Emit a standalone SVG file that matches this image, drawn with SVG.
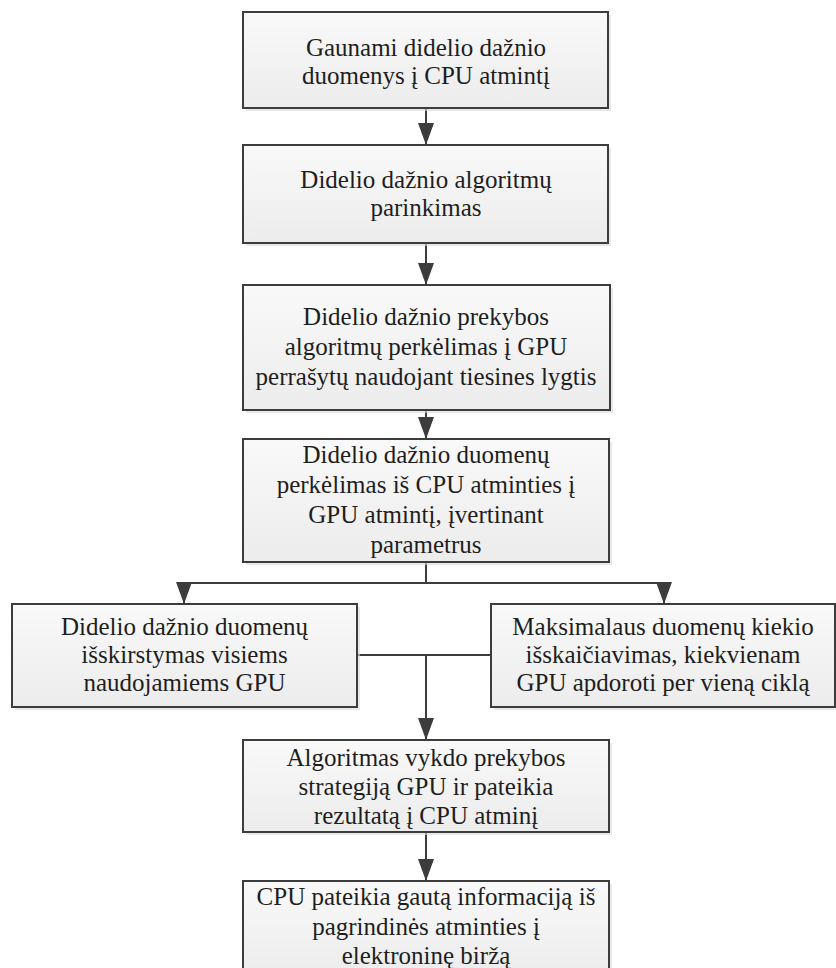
<svg xmlns="http://www.w3.org/2000/svg" width="836" height="968" viewBox="0 0 836 968">
<style>
.box{fill:url(#g);stroke:#3c3c3c;stroke-width:2}
.sh{fill:#d9d9d9;opacity:.6}
.t{font-family:"Liberation Serif","Times New Roman",serif;font-size:25px;fill:#1e1e1e;text-anchor:middle}
.c{fill:none;stroke:#3c3c3c;stroke-width:2}
</style>
<defs>
<linearGradient id="g" x1="0" y1="0" x2="0" y2="1">
<stop offset="0" stop-color="#f9f9f9"/>
<stop offset="1" stop-color="#ececec"/>
</linearGradient>
<marker id="ah" markerUnits="userSpaceOnUse" viewBox="0 0 22 16" markerWidth="22" markerHeight="16" refX="22" refY="8" orient="auto">
<path d="M0,0 L22,8 L0,16 z" fill="#3c3c3c"/>
</marker>
</defs>
<rect width="836" height="968" fill="#ffffff"/>
<g id="connectors">
<line class="c" x1="426" y1="108" x2="426" y2="145" marker-end="url(#ah)"/>
<line class="c" x1="426" y1="243" x2="426" y2="285" marker-end="url(#ah)"/>
<line class="c" x1="426" y1="410" x2="426" y2="439" marker-end="url(#ah)"/>
<polyline class="c" points="426,562 426,583"/>
<line class="c" x1="184" y1="583" x2="664" y2="583"/>
<line class="c" x1="184" y1="582" x2="184" y2="604" marker-end="url(#ah)"/>
<line class="c" x1="664" y1="582" x2="664" y2="604" marker-end="url(#ah)"/>
<line class="c" x1="357" y1="655" x2="491" y2="655"/>
<line class="c" x1="426" y1="654" x2="426" y2="740" marker-end="url(#ah)"/>
<line class="c" x1="426" y1="832" x2="426" y2="881" marker-end="url(#ah)"/>
</g>
<g id="n1">
<rect class="sh" x="246" y="15" width="365" height="96"/>
<rect class="box" x="243" y="12" width="365" height="96"/>
<text class="t" x="426" y="56">Gaunami didelio dažnio</text>
<text class="t" x="426" y="84">duomenys į CPU atmintį</text>
</g>
<g id="n2">
<rect class="sh" x="246" y="148" width="365" height="98"/>
<rect class="box" x="243" y="145" width="365" height="98"/>
<text class="t" x="426" y="188">Didelio dažnio algoritmų</text>
<text class="t" x="426" y="216">parinkimas</text>
</g>
<g id="n3">
<rect class="sh" x="246" y="288" width="367" height="125"/>
<rect class="box" x="243" y="285" width="367" height="125"/>
<text class="t" x="426" y="325">Didelio dažnio prekybos</text>
<text class="t" x="426" y="355">algoritmų perkėlimas į GPU</text>
<text class="t" x="426" y="385">perrašytų naudojant tiesines lygtis</text>
</g>
<g id="n4">
<rect class="sh" x="246" y="442" width="366" height="123"/>
<rect class="box" x="243" y="439" width="366" height="123"/>
<text class="t" x="426" y="463">Didelio dažnio duomenų</text>
<text class="t" x="426" y="493">perkėlimas iš CPU atminties į</text>
<text class="t" x="426" y="523">GPU atmintį, įvertinant</text>
<text class="t" x="426" y="553">parametrus</text>
</g>
<g id="n5">
<rect class="sh" x="15" y="607" width="345" height="103"/>
<rect class="box" x="12" y="604" width="345" height="103"/>
<text class="t" x="184.5" y="635">Didelio dažnio duomenų</text>
<text class="t" x="184.5" y="663">išskirstymas visiems</text>
<text class="t" x="184.5" y="691">naudojamiems GPU</text>
</g>
<g id="n6">
<rect class="sh" x="494" y="607" width="344" height="103"/>
<rect class="box" x="491" y="604" width="344" height="103"/>
<text class="t" x="663" y="635">Maksimalaus duomenų kiekio</text>
<text class="t" x="663" y="663">išskaičiavimas, kiekvienam</text>
<text class="t" x="663" y="691">GPU apdoroti per vieną ciklą</text>
</g>
<g id="n7">
<rect class="sh" x="246" y="743" width="366" height="92"/>
<rect class="box" x="243" y="740" width="366" height="92"/>
<text class="t" x="426" y="766">Algoritmas vykdo prekybos</text>
<text class="t" x="426" y="795">strategiją GPU ir pateikia</text>
<text class="t" x="426" y="824">rezultatą į CPU atminį</text>
</g>
<g id="n8">
<rect class="sh" x="246" y="884" width="366" height="95"/>
<rect class="box" x="243" y="881" width="366" height="95"/>
<text class="t" x="426" y="905">CPU pateikia gautą informaciją iš</text>
<text class="t" x="426" y="935">pagrindinės atminties į</text>
<text class="t" x="426" y="964">elektroninę biržą</text>
</g>
</svg>
